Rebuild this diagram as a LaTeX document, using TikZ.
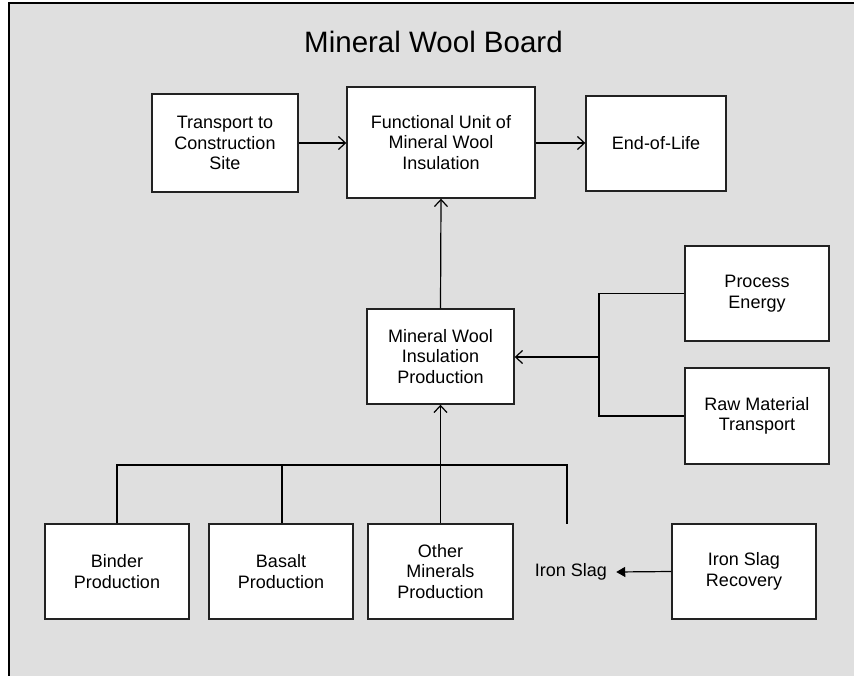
\documentclass[tikz,border=0pt]{standalone}
\usepackage{fontspec}
\setmainfont{Liberation Sans}
\usetikzlibrary{arrows.meta}
\definecolor{bggray}{HTML}{DFDFDF}
\definecolor{edge}{HTML}{222222}
\begin{document}
\begin{tikzpicture}[x=1pt,y=-1pt,
  box/.style={draw=edge,line width=1.4pt,fill=white,inner sep=0pt,align=center,
    font=\fontsize{18}{20.5}\selectfont},
  conn/.style={line width=1.2pt,draw=black},
  openarrow/.style={conn,-{Straight Barb[length=7pt,width=13pt,line width=1.2pt]}},
  fillarrow/.style={conn,-{Triangle[length=9pt,width=10pt]}},
  lbl/.style={inner sep=0pt,align=center,font=\fontsize{18}{20.5}\selectfont}]
\useasboundingbox (0,0) rectangle (854,676);
\fill[white] (0,0) rectangle (854,676);
\draw[fill=bggray,draw=black,line width=2pt] (9,3) rectangle (870,690);
\node[inner sep=0pt,font=\fontsize{29.5}{32}\selectfont] (title) at (433.5,42) {Mineral Wool Board};
% top row
\node[box,minimum width=146pt,minimum height=98pt] (T) at (225,143) {Transport to\\Construction\\Site};
\node[box,minimum width=188pt,minimum height=111pt] (F) at (441,142.5) {Functional Unit of\\Mineral Wool\\Insulation};
\node[box,minimum width=140pt,minimum height=95pt] (E) at (656,143.5) {End-of-Life};
% middle
\node[box,minimum width=147pt,minimum height=95pt] (M) at (440.5,356.5) {Mineral Wool\\Insulation\\Production};
\node[box,minimum width=144pt,minimum height=95pt] (P) at (757,293.5) {Process\\Energy};
\node[box,minimum width=144pt,minimum height=96pt] (R) at (757,416) {Raw Material\\Transport};
% bottom
\node[box,minimum width=144pt,minimum height=95pt] (B) at (117,571.5) {Binder\\Production};
\node[box,minimum width=144pt,minimum height=95pt] (S) at (281,571.5) {Basalt\\Production};
\node[box,minimum width=145pt,minimum height=95pt] (O) at (440.5,571.5) {Other\\Minerals\\Production};
\node[lbl] (I) at (571,572) {Iron Slag};
\node[box,minimum width=144pt,minimum height=95pt] (IR) at (744,571.5) {Iron Slag\\Recovery};
% coordinates
\coordinate (bus) at (440.5,465);
\coordinate (slagtop) at (567,524);
\coordinate (br) at (599,357);
% connectors top
\draw[openarrow] (T.east |- 0,143) -- (F.west |- 0,143);
\draw[openarrow] (F.east |- 0,143) -- (E.west |- 0,143);
\draw[openarrow] (M.north) -- (F.south);
% bracket
\draw[conn] (P.west) -- (599,293.5) -- (599,416) -- (R.west);
\draw[openarrow,line width=2pt] (br) -- (M.east |- br);
% bottom bus
\draw[conn] (B.north) -- (B.north |- bus) -- (slagtop |- bus) -- (slagtop);
\draw[conn] (S.north -| 282,0) -- (282,465);
\draw[openarrow] (O.north) -- (M.south);
% iron slag
\draw[fillarrow] (IR.west) -- ([xshift=9pt]I.east);
\end{tikzpicture}
\end{document}
